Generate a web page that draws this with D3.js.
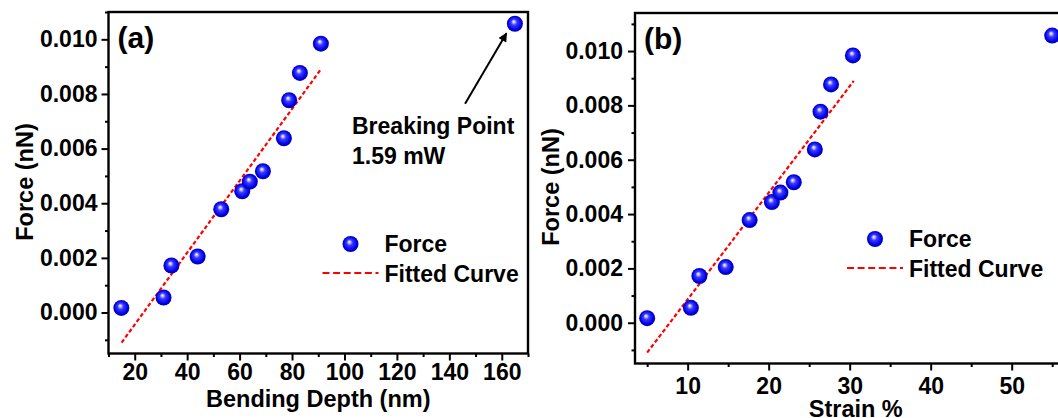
<!DOCTYPE html>
<html>
<head>
<meta charset="utf-8">
<script src="https://cdn.jsdelivr.net/npm/d3@7"></script>
<style>
  body { margin: 0; background: #fff; }
  svg { display: block; }
</style>
</head>
<body>
<div id="chart"></div>
<script>
// values
let depthNm   = [14.9, 31.0, 34.0, 44.0, 53.0, 61.0, 63.9, 68.9, 76.9, 78.9, 83.0, 91.0, 165.0];
let strainPct = [5.0, 10.4, 11.45, 14.7, 17.65, 20.4, 21.45, 23.1, 25.7, 26.4, 27.7, 30.4, 55.0];
let force     = [0.00017, 0.00055, 0.00172, 0.00205, 0.00378, 0.00444, 0.00479, 0.00517, 0.00638, 0.00777, 0.00877, 0.00984, 0.01057];

let fitDepth  = [15, 91];
let fitStrain = [5, 30.5];
let fitForce  = [-0.0011, 0.0089];

let yTicks      = [0, 0.002, 0.004, 0.006, 0.008, 0.010];
let yMinor      = [-0.001, 0.001, 0.003, 0.005, 0.007, 0.009, 0.011];
let xTicksA     = [20, 40, 60, 80, 100, 120, 140, 160];
let xMinorA     = [10, 30, 50, 70, 90, 110, 130, 150, 170];
let xTicksB     = [10, 20, 30, 40, 50];
let xMinorB     = [5, 15, 25, 35, 45, 55];

let legendLabels = ["Force", "Fitted Curve"];
let breakNote    = ["Breaking Point", "1.59 mW"];
let breakArrow   = [[146, 0.00764], [161.8, 0.01022]];  // tail, head in (a) data units

let width = 1058, height = 418;
let font = "'Liberation Sans', Arial, Helvetica, sans-serif";
let fs = 23;

let svg = d3.select("#chart").append("svg")
    .attr("width", width)
    .attr("height", height)
    .attr("font-family", font)
    .attr("font-weight", "bold");

let defs = svg.append("defs");
let grad = defs.append("radialGradient")
    .attr("id", "sphere")
    .attr("cx", 0.5).attr("cy", 0.5).attr("r", 0.55)
    .attr("fx", 0.42).attr("fy", 0.36);
[[0, "#ffffff"], [0.14, "#b8bcff"], [0.34, "#3a3aff"], [0.75, "#0000e6"], [1, "#00008a"]]
    .forEach(s => grad.append("stop").attr("offset", s[0]).attr("stop-color", s[1]));

defs.append("marker")
    .attr("id", "arrow")
    .attr("viewBox", "0 0 10 10")
    .attr("refX", 9).attr("refY", 5)
    .attr("markerWidth", 5.5).attr("markerHeight", 4.5)
    .attr("markerUnits", "strokeWidth")
    .attr("orient", "auto")
  .append("path")
    .attr("d", "M0,0L10,5L0,10z")
    .attr("fill", "#000");

function panel(cfg) {
    let g = svg.append("g");
    let x = d3.scaleLinear().domain(cfg.xDomain).range([cfg.left, cfg.right]);
    let y = d3.scaleLinear().domain(cfg.yDomain).range([cfg.bottom, cfg.top]);

    let styleAxis = a => a
        .call(s => s.select(".domain").remove())
        .call(s => s.selectAll(".tick line").attr("stroke", "#000").attr("stroke-width", 2))
        .call(s => s.selectAll("text")
            .attr("fill", "#000")
            .attr("font-family", font)
            .attr("font-weight", "bold")
            .attr("font-size", fs));

    // minor ticks
    g.append("g")
        .attr("transform", `translate(0,${cfg.bottom})`)
        .call(d3.axisBottom(x).tickValues(cfg.xMinor).tickSize(3.5).tickFormat(""))
        .call(styleAxis);
    g.append("g")
        .attr("transform", `translate(${cfg.left},0)`)
        .call(d3.axisLeft(y).tickValues(yMinor).tickSize(3.5).tickFormat(""))
        .call(styleAxis);

    // major ticks
    g.append("g")
        .attr("transform", `translate(0,${cfg.bottom})`)
        .call(d3.axisBottom(x).tickValues(cfg.xTicks).tickSize(7).tickPadding(cfg.xPad))
        .call(styleAxis);
    g.append("g")
        .attr("transform", `translate(${cfg.left},0)`)
        .call(d3.axisLeft(y).tickValues(yTicks).tickSize(7).tickPadding(cfg.yPad).tickFormat(d3.format(".3f")))
        .call(styleAxis);

    // frame
    g.append("rect")
        .attr("x", cfg.left).attr("y", cfg.top)
        .attr("width", cfg.right - cfg.left)
        .attr("height", cfg.bottom - cfg.top)
        .attr("fill", "none")
        .attr("stroke", "#000")
        .attr("stroke-width", 2.4);

    // axis titles
    g.append("text")
        .attr("x", (cfg.left + cfg.right) / 2)
        .attr("y", cfg.xTitleY)
        .attr("text-anchor", "middle")
        .attr("font-size", fs + 0.5)
        .text(cfg.xTitle);
    g.append("text")
        .attr("transform", `translate(${cfg.yTitleX},${cfg.yTitleY}) rotate(-90)`)
        .attr("text-anchor", "middle")
        .attr("font-size", fs + 0.5)
        .text("Force (nN)");

    // panel tag
    g.append("text")
        .attr("x", cfg.left + 9)
        .attr("y", cfg.top + 36)
        .attr("font-size", 30)
        .text(cfg.tag);

    // fitted line
    let line = d3.line().x(d => x(d[0])).y(d => y(d[1]));
    g.append("path")
        .datum(cfg.fitX.map((v, i) => [v, fitForce[i]]))
        .attr("d", line)
        .attr("fill", "none")
        .attr("stroke", "#ff0000")
        .attr("stroke-width", 2.2)
        .attr("stroke-dasharray", "4,2.4");

    // points
    g.append("g")
        .selectAll("circle")
        .data(cfg.xs.map((v, i) => [v, force[i]]))
        .join("circle")
        .attr("cx", d => x(d[0]))
        .attr("cy", d => y(d[1]))
        .attr("r", 8)
        .attr("fill", "url(#sphere)");

    // legend
    let lx = cfg.left + cfg.legendDx, ly = cfg.top + cfg.legendDy;
    g.append("circle")
        .attr("cx", lx).attr("cy", ly).attr("r", 8)
        .attr("fill", "url(#sphere)");
    g.append("line")
        .attr("x1", lx - 28).attr("x2", lx + 28)
        .attr("y1", ly + 29).attr("y2", ly + 29)
        .attr("stroke", "#ff0000")
        .attr("stroke-width", 2.2)
        .attr("stroke-dasharray", "7,3.6");
    g.selectAll("text.leg")
        .data(legendLabels)
        .join("text")
        .attr("class", "leg")
        .attr("x", lx + 34)
        .attr("y", (d, i) => ly + 8 + i * 30)
        .attr("font-size", fs)
        .text(d => d);

    return { g, x, y };
}

let pa = panel({
    tag: "(a)", xs: depthNm, fitX: fitDepth,
    xDomain: [10, 170], yDomain: [-0.0015, 0.011],
    left: 108.5, right: 528, top: 12, bottom: 353.5,
    xTicks: xTicksA, xMinor: xMinorA, xPad: 3, yPad: 4,
    xTitle: "Bending Depth (nm)", xTitleY: 407,
    yTitleX: 33, yTitleY: 182,
    legendDx: 242, legendDy: 232
});

let pb = panel({
    tag: "(b)", xs: strainPct, fitX: fitStrain,
    xDomain: [3.5, 58], yDomain: [-0.0015, 0.0114],
    left: 635, right: 1076.5, top: 13, bottom: 363.5,
    xTicks: xTicksB, xMinor: xMinorB, xPad: 7, yPad: 5,
    xTitle: "Strain %", xTitleY: 417,
    yTitleX: 559, yTitleY: 187,
    legendDx: 240, legendDy: 226
});

// breaking point note on (a)
pa.g.append("line")
    .attr("x1", pa.x(breakArrow[0][0])).attr("y1", pa.y(breakArrow[0][1]))
    .attr("x2", pa.x(breakArrow[1][0])).attr("y2", pa.y(breakArrow[1][1]))
    .attr("stroke", "#000")
    .attr("stroke-width", 2)
    .attr("marker-end", "url(#arrow)");
pa.g.selectAll("text.note")
    .data(breakNote)
    .join("text")
    .attr("class", "note")
    .attr("x", 352)
    .attr("y", (d, i) => 134 + i * 30)
    .attr("font-size", fs)
    .text(d => d);
</script>
</body>
</html>
